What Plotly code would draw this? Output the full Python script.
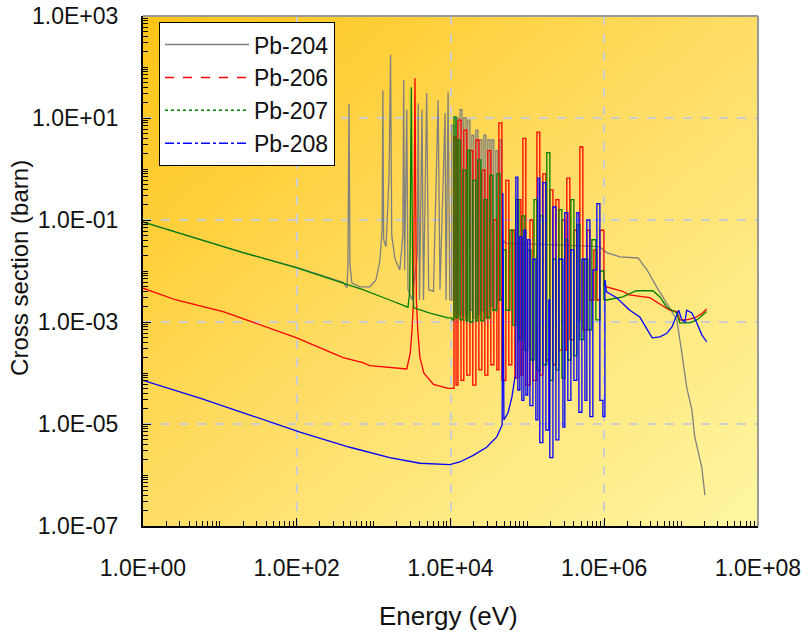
import base64
import plotly.graph_objects as go

# ---------------- data ----------------
series_names = ["Pb-204", "Pb-206", "Pb-207", "Pb-208"]
series_colors = ["#808080", "#FF0000", "#008000", "#0000FF"]
legend_dashes = ["solid", "dash", "dot", "dashdot"]

# Pb-204: smooth + isolated resonances / dense resolved region / high-energy tail
pb204_low_E = [1, 4.5, 20, 100, 400, 450, 463, 478, 492, 522, 660, 890, 1070, 1200, 1290, 1320, 1350,
               1450, 1590, 1660, 1720, 1900, 2190, 2400, 2460, 2530, 2700, 2800, 3160, 3700, 3800, 3950,
               4260, 4450, 4900, 5200, 6000, 6900, 7300, 8500, 8750, 9300, 9800]
pb204_low_xs = [0.092, 0.046, 0.023, 0.0118, 0.0060, 0.0047, 0.013, 19, 0.013, 0.0058, 0.0049, 0.0049,
                0.0066, 0.015, 0.063, 35, 0.041, 0.03, 0.8, 174, 0.05, 0.017, 0.0105, 0.05, 56, 0.0105,
                14.5, 0.0043, 0.0027, 0.02, 19.5, 0.0027, 14.5, 0.0027, 31, 0.0043, 0.004, 22.5, 0.0043,
                12.5, 0.0027, 32, 0.0027]
pb204_res_E = [9800, 1.04e4, 1.11e4, 1.18e4, 1.25e4, 1.33e4, 1.41e4, 1.49e4, 1.59e4, 1.68e4, 1.79e4,
               1.9e4, 2.01e4, 2.14e4, 2.27e4, 2.41e4, 2.56e4, 2.72e4, 2.88e4, 3.06e4, 3.25e4, 3.45e4,
               3.66e4, 3.89e4, 4.13e4, 4.39e4, 4.66e4, 4.8e4]
pb204_res_xs = [0.0027, 7.2, 1.7e-3, 10, 1.4e-3, 14.5, 1.4e-3, 10, 1.2e-3, 9.1, 1.7e-3,
                4.6, 1.2e-3, 5.8, 1.4e-3, 3.7, 1.7e-3, 4.6, 1.2e-3, 3.7, 2.1e-3, 3.7,
                1.7e-3, 2.3, 2.7e-3, 3.7, 1.7e-3, 0.041]
pb204_tail_E = [4.8e4, 5.2e4, 1.07e5, 2.6e5, 6.5e5, 8.7e5, 1.07e6, 1.6e6, 2.75e6, 3.6e6, 4.8e6, 6.5e6,
                8.8e6, 1.02e7, 1.18e7, 1.38e7, 1.5e7, 1.86e7, 2.04e7]
pb204_tail_xs = [0.041, 0.035, 0.034, 0.032, 0.030, 0.030, 0.023, 0.019, 0.018, 0.0105, 0.0049, 0.0023,
                 0.0011, 2.5e-4, 5.3e-5, 1.9e-5, 5.7e-6, 1.4e-6, 4.0e-7]

# Pb-206
pb206_low_E = [1, 2.7, 11, 100, 400, 724, 890, 2700, 3000, 3160, 3300, 3450, 3600, 3750, 4000, 4500,
               6000, 9300]
pb206_low_xs = [4.6e-3, 2.7e-3, 1.6e-3, 4.9e-4, 2.0e-4, 1.6e-4, 1.4e-4, 1.2e-4, 2.5e-4, 7e-4, 2.6e-3,
                60, 2.6e-3, 7e-4, 2e-4, 1e-4, 6e-5, 5e-5]
pb206_res_E = [9300, 1.04e4, 1.11e4, 1.18e4, 1.25e4, 1.37e4, 1.49e4, 1.63e4, 1.79e4, 1.95e4, 2.14e4,
               2.34e4, 2.56e4, 2.8e4, 3.06e4, 3.35e4, 3.66e4, 4.01e4, 4.26e4, 4.66e4, 5.25e4, 5.74e4,
               6.28e4, 6.87e4, 7.52e4, 8.23e4, 8.74e4, 9.55e4, 1.08e5, 1.18e5, 1.33e5, 1.45e5, 1.59e5,
               1.74e5, 1.96e5, 2.15e5, 2.35e5, 2.57e5, 2.81e5, 3.07e5, 3.26e5, 3.57e5, 4.03e5, 4.4e5,
               4.82e5, 5.27e5, 5.94e5, 6.5e5, 7.33e5, 8.02e5, 8.77e5, 9.89e5]
pb206_res_xs = [5e-5, 5e-5, 4.3, 5.8e-5, 9.1, 7.2e-5, 5.8, 9.1e-5, 2.3, 5.8e-5, 3.7,
                1.15e-4, 0.95, 9.1e-5, 2.3, 1.45e-4, 0.1, 1.15e-4, 8.0, 7.2e-5, 0.6, 1.45e-4,
                0.063, 7.9e-5, 0.25, 9.1e-5, 4.0, 5.8e-5, 0.1, 7.2e-5, 5.3, 9.1e-5, 0.8,
                1.8e-4, 0.39, 1.45e-4, 0.25, 2.8e-4, 0.1, 2.8e-4, 0.66, 4.5e-4, 0.063, 1.1e-3,
                2.7, 7e-4, 0.063, 2.7e-3, 0.026, 2.7e-3, 0.063, 5.1e-3]
pb206_tail_E = [9.89e5, 1.07e6, 1.74e6, 2.1e6, 3.9e6, 5.3e6, 7.1e6, 8.8e6, 9.6e6, 1.18e7, 1.5e7, 1.9e7,
                2.15e7]
pb206_tail_xs = [5.1e-3, 4.9e-3, 4.0e-3, 3.4e-3, 3.0e-3, 2.2e-3, 1.7e-3, 1.6e-3, 1.1e-3, 1.1e-3, 1.2e-3,
                 1.5e-3, 1.8e-3]

# Pb-207
pb207_low_E = [1, 4.5, 20, 100, 400, 724, 1620, 2800, 2950, 3090, 3230, 3330, 5400, 9300]
pb207_low_xs = [0.091, 0.045, 0.023, 0.0115, 0.0058, 0.0043, 0.0027, 0.00195, 0.004, 40, 0.004, 0.0019,
                0.0015, 0.0012]
pb207_res_E = [9300, 1.04e4, 1.11e4, 1.18e4, 1.25e4, 1.33e4, 1.45e4, 1.59e4, 1.68e4, 1.79e4, 1.95e4,
               2.14e4, 2.27e4, 2.48e4, 2.72e4, 2.97e4, 3.25e4, 3.56e4, 4.01e4, 4.39e4, 4.8e4, 5.25e4,
               5.92e4, 6.47e4, 7.08e4, 7.75e4, 8.47e4, 9.27e4, 1.01e5, 1.11e5, 1.22e5, 1.33e5, 1.45e5,
               1.59e5, 1.79e5, 1.96e5, 2.15e5, 2.35e5, 2.57e5, 2.81e5, 3.07e5, 3.36e5, 3.68e5, 4.03e5,
               4.4e5, 4.82e5, 5.43e5, 6.12e5, 6.9e5, 7.78e5, 8.77e5, 9.89e5]
pb207_res_xs = [0.0012, 1.1e-3, 10.5, 1.2e-3, 3.7, 1.1e-3, 0.95, 1.05e-3, 2.35, 1.0e-3, 0.6,
                1.05e-3, 1.5, 1.05e-3, 0.25, 1.2e-3, 0.75, 1.7e-3, 0.8, 2.7e-3, 0.026, 1.7e-3,
                0.063, 8.7e-4, 0.25, 4.5e-4, 0.12, 2.8e-4, 0.026, 1.8e-4, 0.25, 1.15e-4, 0.12,
                1.45e-4, 2.1, 7.2e-5, 0.017, 1.15e-4, 0.16, 7.9e-5, 0.041, 1.8e-4, 0.25, 2.2e-4,
                0.08, 4.5e-4, 0.017, 7e-4, 0.041, 1.1e-3, 0.01, 2.7e-3]
pb207_tail_E = [9.89e5, 1.07e6, 1.74e6, 2.6e6, 4.3e6, 5.3e6, 6.5e6, 8.8e6, 9.6e6, 1.3e7, 1.6e7, 1.9e7,
                2.15e7]
pb207_tail_xs = [2.7e-3, 2.7e-3, 3.1e-3, 4.1e-3, 4.1e-3, 3.1e-3, 1.95e-3, 1.5e-3, 9.6e-4, 9.6e-4, 1.1e-3,
                 1.35e-3, 1.6e-3]

# Pb-208
pb208_low_E = [1, 5.5, 24.6, 110, 490, 1620, 4000, 9800, 1.32e4, 1.95e4, 2.95e4, 4.0e4, 4.7e4, 4.8e4,
               4.95e4, 5.6e4, 6.3e4, 6.9e4]
pb208_low_xs = [7.2e-5, 3.2e-5, 1.5e-5, 6.9e-6, 3.5e-6, 2.2e-6, 1.7e-6, 1.6e-6, 1.8e-6, 2.4e-6, 3.5e-6,
                5.6e-6, 9.6e-6, 0.34, 1.2e-5, 1.66e-5, 3.4e-5, 8.3e-5]
pb208_res_E = [6.9e4, 7.08e4, 7.52e4, 7.98e4, 8.47e4, 9.0e4, 9.55e4, 1.01e5, 1.08e5, 1.18e5, 1.29e5,
               1.37e5, 1.45e5, 1.59e5, 1.74e5, 1.9e5, 1.96e5, 2.15e5, 2.35e5, 2.57e5, 2.9e5, 3.07e5,
               3.36e5, 3.68e5, 4.03e5, 4.4e5, 4.68e5, 5.12e5, 5.6e5, 5.94e5, 6.5e5, 7.11e5, 8.02e5,
               8.77e5, 9.6e5, 1.02e6]
pb208_res_xs = [8.3e-5, 0.69, 4.6e-5, 0.047, 2.9e-5, 0.063, 3.7e-5, 0.041, 2.3e-5, 0.017, 1.2e-5,
                0.66, 4.3e-6, 0.54, 7.6e-6, 2.7e-3, 2.2e-6, 0.18, 4.9e-6, 0.017, 8.7e-6, 0.14,
                2.9e-5, 0.026, 7.2e-5, 0.14, 1.7e-5, 0.017, 2.9e-5, 0.1, 1.4e-5, 0.0105, 0.21,
                2.9e-5, 1.4e-5, 6.6e-3]
pb208_tail_E = [1.02e6, 1.07e6, 1.45e6, 2.15e6, 2.9e6, 3.6e6, 4.2e6, 5.3e6, 6.5e6, 7.6e6, 9.3e6, 1.02e7,
                1.12e7, 1.18e7, 1.38e7, 1.6e7, 1.86e7, 2.15e7]
pb208_tail_xs = [6.6e-3, 3.9e-3, 3e-3, 1.7e-3, 1.25e-3, 7e-4, 4.9e-4, 5.1e-4, 6e-4, 8e-4, 1.7e-3, 1.1e-3,
                 1.0e-3, 1.7e-3, 1.5e-3, 9.6e-4, 5.6e-4, 4.1e-4]

x_tick_vals = [1, 1e2, 1e4, 1e6, 1e8]
x_tick_text = ["1.0E+00", "1.0E+02", "1.0E+04", "1.0E+06", "1.0E+08"]
y_tick_vals = [1e-7, 1e-5, 1e-3, 1e-1, 1e1, 1e3]
y_tick_text = ["1.0E-07", "1.0E-05", "1.0E-03", "1.0E-01", "1.0E+01", "1.0E+03"]

x_title = "Energy (eV)"
y_title = "Cross section (barn)"

# ---------------- figure ----------------
FONT = "Liberation Sans, Arial, sans-serif"

segments = [
    [(pb204_low_E, pb204_low_xs, "linear"), (pb204_res_E, pb204_res_xs, "hv"), (pb204_tail_E, pb204_tail_xs, "linear")],
    [(pb206_low_E, pb206_low_xs, "linear"), (pb206_res_E, pb206_res_xs, "hv"), (pb206_tail_E, pb206_tail_xs, "linear")],
    [(pb207_low_E, pb207_low_xs, "linear"), (pb207_res_E, pb207_res_xs, "hv"), (pb207_tail_E, pb207_tail_xs, "linear")],
    [(pb208_low_E, pb208_low_xs, "linear"), (pb208_res_E, pb208_res_xs, "hv"), (pb208_tail_E, pb208_tail_xs, "linear")],
]

fig = go.Figure()
for name, col, segs in zip(series_names, series_colors, segments):
    for E, s, shape in segs:
        fig.add_trace(go.Scatter(x=E, y=s, mode="lines", line=dict(color=col, width=1.3, shape=shape),
                                 showlegend=False, hoverinfo="skip", name=name))
for name, col, dash in zip(series_names, series_colors, legend_dashes):
    fig.add_trace(go.Scatter(x=[None], y=[None], mode="lines", name=name, legendgroup=name,
                             line=dict(color=col, width=1.5, dash=dash)))

def minor_vals(lo, hi, labelled):
    out = []
    for d in range(lo, hi):
        for m in range(1, 10):
            v = m * 10.0 ** d
            if m == 1 and any(abs(v / t - 1) < 1e-9 for t in labelled):
                continue
            out.append(v)
    return out

svg = ('<svg xmlns="http://www.w3.org/2000/svg" width="600" height="500" viewBox="0 0 100 100" '
       'preserveAspectRatio="none"><defs><linearGradient id="g" x1="0" y1="0" x2="1" y2="1">'
       '<stop offset="0" stop-color="#FFC416"/><stop offset="0.5" stop-color="#FFDD66"/>'
       '<stop offset="1" stop-color="#FFF7A2"/></linearGradient></defs>'
       '<rect x="0" y="0" width="100" height="100" fill="url(#g)"/></svg>')
bg_src = "data:image/svg+xml;base64," + base64.b64encode(svg.encode()).decode()

fig.update_layout(
    width=803, height=635,
    margin=dict(l=143, r=45, t=16, b=109, autoexpand=False),
    paper_bgcolor="white",
    plot_bgcolor="#FFDD66",
    font=dict(family=FONT, size=23, color="#111111"),
    images=[dict(source=bg_src, xref="paper", yref="paper", x=0, y=1, sizex=1, sizey=1,
                 sizing="stretch", layer="below", xanchor="left", yanchor="top")],
    legend=dict(x=0.026, y=0.988, xanchor="left", yanchor="top",
                bgcolor="white", bordercolor="black", borderwidth=1,
                font=dict(family=FONT, size=23, color="#111111"),
                itemwidth=84, tracegroupgap=0),
    showlegend=True,
)

common = dict(ticks="inside", ticklen=8, tickwidth=1, tickcolor="black",
              showline=True, linecolor="black", linewidth=2, mirror=False,
              showgrid=True, gridcolor="rgba(205,205,205,1)", gridwidth=2, griddash="dash",
              zeroline=False, automargin=False, ticklabeloverflow="allow",
              tickfont=dict(family=FONT, size=23, color="#111111"))

fig.update_xaxes(type="log", range=[0, 8], tickmode="array", tickvals=x_tick_vals, ticktext=x_tick_text,
                 ticklabelstandoff=20,
                 minor=dict(tickmode="array", tickvals=minor_vals(0, 8, x_tick_vals),
                            ticks="inside", ticklen=5, tickcolor="black", showgrid=False),
                 **common)
fig.update_yaxes(type="log", range=[-7, 3], tickmode="array", tickvals=y_tick_vals, ticktext=y_tick_text,
                 ticklabelstandoff=18,
                 minor=dict(tickmode="array", tickvals=minor_vals(-7, 3, y_tick_vals),
                            ticks="inside", ticklen=5, tickcolor="black", showgrid=False),
                 **common)

fig.add_shape(type="line", xref="paper", yref="paper", x0=0, x1=1, y0=1, y1=1,
              line=dict(color="#999999", width=2))
fig.add_shape(type="line", xref="paper", yref="paper", x0=1, x1=1, y0=0, y1=1,
              line=dict(color="#999999", width=2))

fig.add_annotation(text=x_title, xref="paper", yref="paper", x=0.496, y=-0.176,
                   showarrow=False, xanchor="center", yanchor="middle",
                   font=dict(family=FONT, size=26, color="#111111"))
fig.add_annotation(text=y_title, xref="paper", yref="paper", x=-0.2, y=0.506,
                   showarrow=False, xanchor="center", yanchor="middle", textangle=-90,
                   font=dict(family=FONT, size=24, color="#111111"))

fig.write_html("out.html", config={"displayModeBar": False},
               post_script="document.body.style.margin='0px';document.body.style.overflow='hidden';")
